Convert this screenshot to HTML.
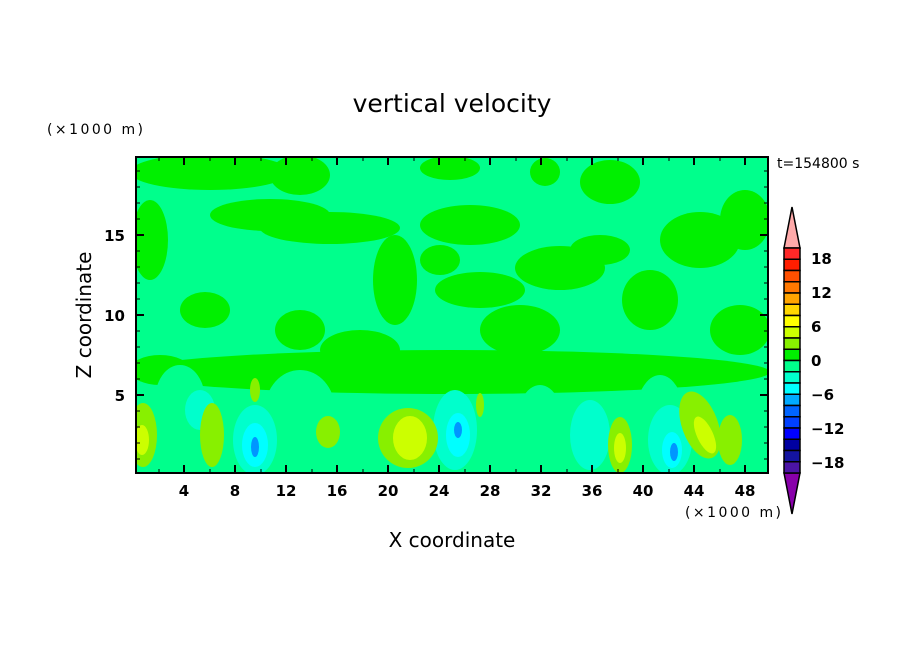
<!DOCTYPE html>
<html><head><meta charset="utf-8"><style>
html,body{margin:0;padding:0;background:#fff;}
svg{display:block;}
text{font-family:"DejaVu Sans","Liberation Sans",sans-serif;fill:#000;}
.b{font-family:"Liberation Sans",sans-serif;font-weight:bold;}
</style></head><body>
<svg width="904" height="654" viewBox="0 0 904 654" xmlns="http://www.w3.org/2000/svg">
<defs><clipPath id="c"><rect x="136" y="157" width="632" height="316"/></clipPath></defs>
<text x="452" y="112" font-size="25" text-anchor="middle">vertical velocity</text>
<text x="47" y="134" font-size="14" textLength="96">(×1000 m)</text>
<text x="777" y="168" font-size="14">t=154800 s</text>
<g clip-path="url(#c)">
<rect x="136" y="157" width="632" height="316" fill="#00ff8c"/>
<g fill="#00f000">
<ellipse cx="210" cy="172" rx="80" ry="18"/>
<ellipse cx="300" cy="175" rx="30" ry="20"/>
<ellipse cx="270" cy="215" rx="60" ry="16"/>
<ellipse cx="330" cy="228" rx="70" ry="16"/>
<ellipse cx="470" cy="225" rx="50" ry="20"/>
<ellipse cx="150" cy="240" rx="18" ry="40"/>
<ellipse cx="395" cy="280" rx="22" ry="45"/>
<ellipse cx="480" cy="290" rx="45" ry="18"/>
<ellipse cx="560" cy="268" rx="45" ry="22"/>
<ellipse cx="650" cy="300" rx="28" ry="30"/>
<ellipse cx="700" cy="240" rx="40" ry="28"/>
<ellipse cx="610" cy="182" rx="30" ry="22"/>
<ellipse cx="545" cy="172" rx="15" ry="14"/>
<ellipse cx="205" cy="310" rx="25" ry="18"/>
<ellipse cx="300" cy="330" rx="25" ry="20"/>
<ellipse cx="745" cy="220" rx="25" ry="30"/>
<ellipse cx="450" cy="168" rx="30" ry="12"/>
<ellipse cx="360" cy="350" rx="40" ry="20"/>
<ellipse cx="520" cy="330" rx="40" ry="25"/>
<ellipse cx="740" cy="330" rx="30" ry="25"/>
<ellipse cx="450" cy="372" rx="320" ry="22"/>
<ellipse cx="160" cy="370" rx="30" ry="15"/>
<ellipse cx="600" cy="250" rx="30" ry="15"/>
<ellipse cx="440" cy="260" rx="20" ry="15"/>
</g>
<g fill="#00ff8c">
<ellipse cx="180" cy="400" rx="25" ry="35"/>
<ellipse cx="300" cy="410" rx="35" ry="40"/>
<ellipse cx="350" cy="440" rx="20" ry="40"/>
<ellipse cx="540" cy="430" rx="25" ry="45"/>
<ellipse cx="660" cy="420" rx="25" ry="45"/>
<ellipse cx="760" cy="420" rx="15" ry="40"/>
</g>
<g fill="#00ffcc">
<ellipse cx="255" cy="440" rx="22" ry="35"/>
<ellipse cx="455" cy="430" rx="22" ry="40"/>
<ellipse cx="590" cy="435" rx="20" ry="35"/>
<ellipse cx="670" cy="440" rx="22" ry="35"/>
<ellipse cx="200" cy="410" rx="15" ry="20"/>
</g>
<g fill="#00ffff">
<ellipse cx="255" cy="445" rx="13" ry="22"/>
<ellipse cx="458" cy="435" rx="12" ry="22"/>
<ellipse cx="672" cy="450" rx="10" ry="18"/>
</g>
<g fill="#0096ff">
<ellipse cx="255" cy="447" rx="4" ry="10"/>
<ellipse cx="458" cy="430" rx="4" ry="8"/>
<ellipse cx="674" cy="452" rx="4" ry="9"/>
</g>
<g fill="#88f000">
<ellipse cx="143" cy="435" rx="14" ry="32"/>
<ellipse cx="212" cy="435" rx="12" ry="32"/>
<ellipse cx="328" cy="432" rx="12" ry="16"/>
<ellipse cx="408" cy="438" rx="30" ry="30"/>
<ellipse cx="620" cy="445" rx="12" ry="28"/>
<ellipse cx="700" cy="425" rx="18" ry="35" transform="rotate(-20 700 425)"/>
<ellipse cx="730" cy="440" rx="12" ry="25"/>
<ellipse cx="255" cy="390" rx="5" ry="12"/>
<ellipse cx="480" cy="405" rx="4" ry="12"/>
</g>
<g fill="#ccff00">
<ellipse cx="142" cy="440" rx="7" ry="15"/>
<ellipse cx="410" cy="438" rx="17" ry="22"/>
<ellipse cx="620" cy="448" rx="6" ry="15"/>
<ellipse cx="705" cy="435" rx="8" ry="20" transform="rotate(-25 705 435)"/>
</g>
</g>
<rect x="136" y="157" width="632" height="316" fill="none" stroke="#000" stroke-width="2"/>
<g stroke="#000" stroke-width="2">
<path d="M184 473v-8M235 473v-8M286 473v-8M337 473v-8M388 473v-8M439 473v-8M490 473v-8M541 473v-8M592 473v-8M643 473v-8M694 473v-8M745 473v-8"/>
<path d="M184 157v8M235 157v8M286 157v8M337 157v8M388 157v8M439 157v8M490 157v8M541 157v8M592 157v8M643 157v8M694 157v8M745 157v8"/>
<path d="M136 395h8M136 315h8M136 235h8M768 395h-8M768 315h-8M768 235h-8"/>
</g>
<g stroke="#000" stroke-width="1">
<path d="M159 473v-4M210 473v-4M261 473v-4M312 473v-4M363 473v-4M414 473v-4M465 473v-4M516 473v-4M567 473v-4M618 473v-4M669 473v-4M720 473v-4"/>
<path d="M159 157v4M210 157v4M261 157v4M312 157v4M363 157v4M414 157v4M465 157v4M516 157v4M567 157v4M618 157v4M669 157v4M720 157v4"/>
<path d="M136 459h4M136 443h4M136 427h4M136 411h4M136 379h4M136 363h4M136 347h4M136 331h4M136 299h4M136 283h4M136 267h4M136 251h4M136 219h4M136 203h4M136 187h4M136 171h4"/>
<path d="M768 459h-4M768 443h-4M768 427h-4M768 411h-4M768 379h-4M768 363h-4M768 347h-4M768 331h-4M768 299h-4M768 283h-4M768 267h-4M768 251h-4M768 219h-4M768 203h-4M768 187h-4M768 171h-4"/>
</g>
<g font-size="15" text-anchor="middle" class="b">
<text x="184" y="496">4</text><text x="235" y="496">8</text><text x="286" y="496">12</text><text x="337" y="496">16</text><text x="388" y="496">20</text><text x="439" y="496">24</text><text x="490" y="496">28</text><text x="541" y="496">32</text><text x="592" y="496">36</text><text x="643" y="496">40</text><text x="694" y="496">44</text><text x="745" y="496">48</text>
</g>
<g font-size="15" text-anchor="end" class="b">
<text x="125" y="401">5</text><text x="125" y="321">10</text><text x="125" y="241">15</text>
</g>
<text x="685" y="517" font-size="14" textLength="96">(×1000 m)</text>
<text x="452" y="547" font-size="20" text-anchor="middle">X coordinate</text>
<text x="0" y="0" font-size="20" text-anchor="middle" transform="translate(91 315) rotate(-90)">Z coordinate</text>
<g stroke="#000" stroke-width="1.5">
<polygon points="784,248 800,248 792,207" fill="#ffaaaa"/>
<polygon points="784,473 800,473 792,514" fill="#8800aa"/>
<rect x="784" y="248.0" width="16" height="11.25" fill="#ff2828"/>
<rect x="784" y="259.25" width="16" height="11.25" fill="#ff1e00"/>
<rect x="784" y="270.5" width="16" height="11.25" fill="#ff5000"/>
<rect x="784" y="281.75" width="16" height="11.25" fill="#ff7800"/>
<rect x="784" y="293.0" width="16" height="11.25" fill="#ffa500"/>
<rect x="784" y="304.25" width="16" height="11.25" fill="#ffd700"/>
<rect x="784" y="315.5" width="16" height="11.25" fill="#ffff00"/>
<rect x="784" y="326.75" width="16" height="11.25" fill="#ccff00"/>
<rect x="784" y="338.0" width="16" height="11.25" fill="#88f000"/>
<rect x="784" y="349.25" width="16" height="11.25" fill="#00f000"/>
<rect x="784" y="360.5" width="16" height="11.25" fill="#00ff8c"/>
<rect x="784" y="371.75" width="16" height="11.25" fill="#00ffcc"/>
<rect x="784" y="383.0" width="16" height="11.25" fill="#00ffff"/>
<rect x="784" y="394.25" width="16" height="11.25" fill="#00aaff"/>
<rect x="784" y="405.5" width="16" height="11.25" fill="#0064ff"/>
<rect x="784" y="416.75" width="16" height="11.25" fill="#0040ff"/>
<rect x="784" y="428.0" width="16" height="11.25" fill="#0000ff"/>
<rect x="784" y="439.25" width="16" height="11.25" fill="#0000a0"/>
<rect x="784" y="450.5" width="16" height="11.25" fill="#1414a0"/>
<rect x="784" y="461.75" width="16" height="11.25" fill="#4b14a5"/>
</g>
<g font-size="15" class="b">
<text x="811" y="264">18</text><text x="811" y="298">12</text><text x="811" y="332">6</text><text x="811" y="366">0</text><text x="811" y="400">−6</text><text x="811" y="434">−12</text><text x="811" y="468">−18</text>
</g>
</svg>
</body></html>
